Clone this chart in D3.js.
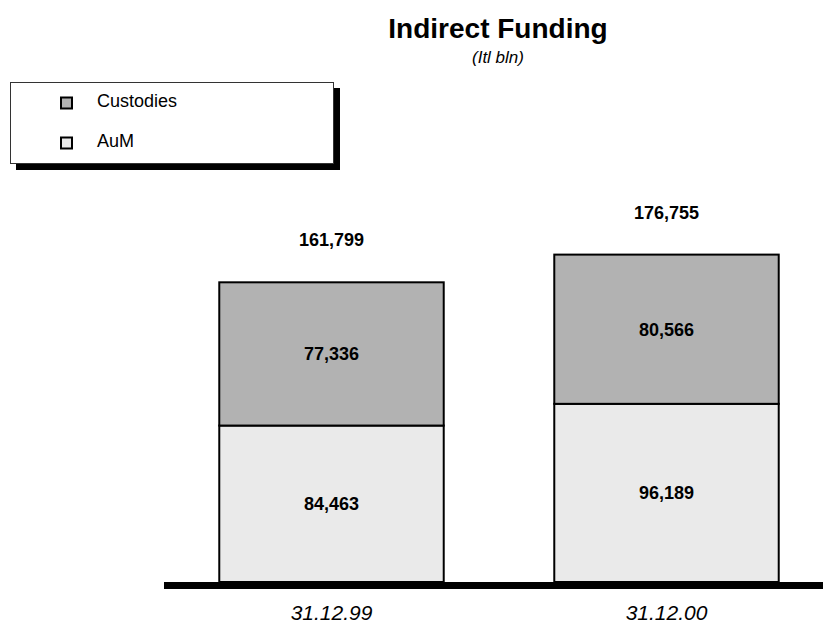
<!DOCTYPE html>
<html>
<head>
<meta charset="utf-8">
<script src="https://cdn.jsdelivr.net/npm/d3@7"></script>
<style>
  html, body { margin: 0; padding: 0; background: #fff; }
  svg { display: block; font-family: "Liberation Sans", Arial, sans-serif; }
</style>
</head>
<body>
<svg id="chart" width="823" height="630"></svg>
<script>
// Indirect funding, Itl bln
const periods = ["31.12.99", "31.12.00"];
const aum = [84463, 96189];
const custodies = [77336, 80566];
const totals = [161799, 176755];
const seriesNames = ["Custodies", "AuM"];
const seriesColors = ["#b2b2b2", "#eaeaea"];

const fmt = d3.format(",");
const svg = d3.select("#chart");

const x = d3.scaleBand()
  .domain(periods)
  .range([164, 834])
  .paddingInner(0.33)
  .paddingOuter(0.165);

const y = d3.scaleLinear()
  .domain([0, 180000])
  .range([582, 582 - 333.4]);

// stacked layers: AuM at the bottom, Custodies on top
const rows = periods.map((p, i) => ({ period: p, AuM: aum[i], Custodies: custodies[i] }));
const stack = d3.stack().keys(["AuM", "Custodies"]);
const layers = stack(rows);
const colorOf = { Custodies: seriesColors[0], AuM: seriesColors[1] };

// title
svg.append("text")
  .attr("x", 498).attr("y", 38)
  .attr("text-anchor", "middle")
  .attr("font-weight", "bold").attr("font-size", 28)
  .text("Indirect Funding");
svg.append("text")
  .attr("x", 498).attr("y", 63)
  .attr("text-anchor", "middle")
  .attr("font-style", "italic").attr("font-size", 17)
  .text("(Itl bln)");

// legend box with drop shadow
const lg = svg.append("g");
lg.append("rect").attr("x", 16).attr("y", 88).attr("width", 324).attr("height", 82).attr("fill", "#000");
lg.append("rect").attr("x", 10.5).attr("y", 82.5).attr("width", 323).attr("height", 81)
  .attr("fill", "#fff").attr("stroke", "#333").attr("stroke-width", 1);
seriesNames.forEach((name, i) => {
  const cy = 103 + i * 40;
  lg.append("rect").attr("x", 61).attr("y", cy - 5.5).attr("width", 11).attr("height", 11)
    .attr("fill", seriesColors[i]).attr("stroke", "#000").attr("stroke-width", 2);
  lg.append("text").attr("x", 97).attr("y", cy + 4)
    .attr("font-size", 18).text(name);
});

// bars
const barG = svg.append("g");
layers.forEach(layer => {
  barG.selectAll(null)
    .data(layer)
    .join("rect")
    .attr("x", d => x(d.data.period))
    .attr("y", d => y(d[1]))
    .attr("width", x.bandwidth())
    .attr("height", d => y(d[0]) - y(d[1]))
    .attr("fill", colorOf[layer.key])
    .attr("stroke", "#000")
    .attr("stroke-width", 2);

  barG.selectAll(null)
    .data(layer)
    .join("text")
    .attr("x", d => x(d.data.period) + x.bandwidth() / 2)
    .attr("y", d => (y(d[0]) + y(d[1])) / 2 + 6.5)
    .attr("text-anchor", "middle")
    .attr("font-weight", "bold").attr("font-size", 18)
    .text(d => fmt(d[1] - d[0]));
});

// totals above bars
svg.selectAll(null)
  .data(periods)
  .join("text")
  .attr("x", d => x(d) + x.bandwidth() / 2)
  .attr("y", (d, i) => y(totals[i]) - 36)
  .attr("text-anchor", "middle")
  .attr("font-weight", "bold").attr("font-size", 18)
  .text((d, i) => fmt(totals[i]));

// baseline
svg.append("rect").attr("x", 164).attr("y", 582).attr("width", 659).attr("height", 7).attr("fill", "#000");

// category labels
svg.selectAll(null)
  .data(periods)
  .join("text")
  .attr("x", d => x(d) + x.bandwidth() / 2)
  .attr("y", 620)
  .attr("text-anchor", "middle")
  .attr("font-style", "italic").attr("font-size", 21)
  .text(d => d);
</script>
</body>
</html>
